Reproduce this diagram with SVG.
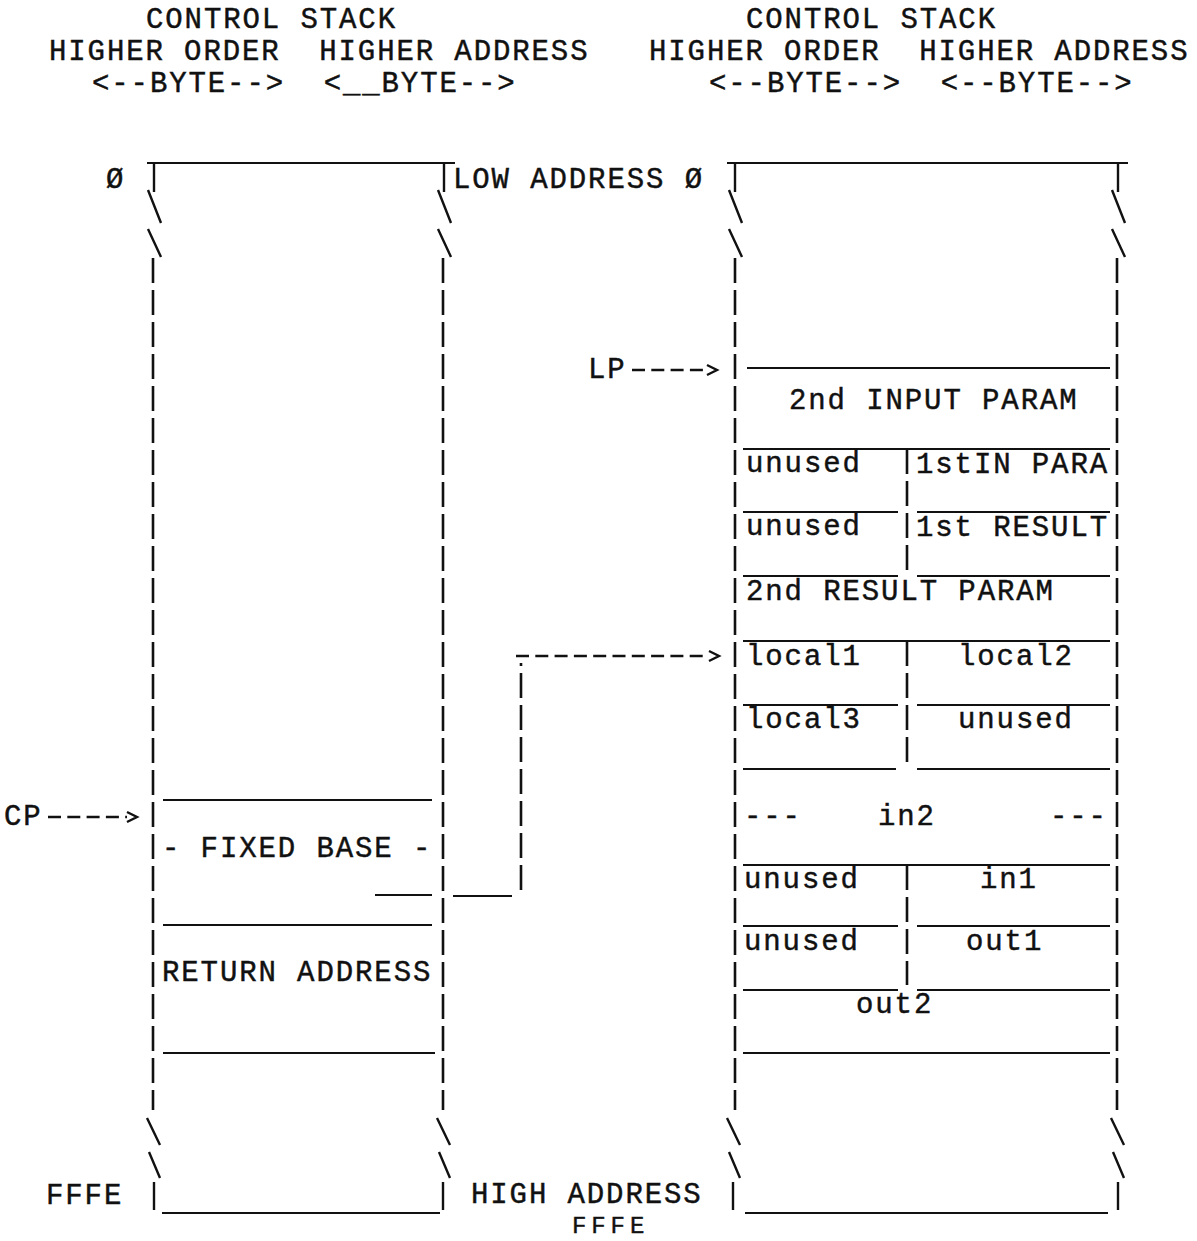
<svg xmlns="http://www.w3.org/2000/svg" width="1197" height="1241" viewBox="0 0 1197 1241" xml:space="preserve">
<defs>
<style>
.t{font-family:"Liberation Mono","DejaVu Sans Mono",monospace;font-size:29px;letter-spacing:1.9px;fill:#111;stroke:#111;stroke-width:0.45;white-space:pre}
.sm{font-size:24px;letter-spacing:4.9px}
.h{stroke:#111;stroke-width:2.2;fill:none}
.v{stroke:#111;stroke-width:2.6;fill:none;stroke-dasharray:25 7}
.s{stroke:#111;stroke-width:2.4;fill:none}
.a{stroke:#111;stroke-width:2.6;fill:none;stroke-dasharray:13 6.3}
</style>
<marker id="chev" markerUnits="userSpaceOnUse" markerWidth="14" markerHeight="14" refX="1" refY="6" orient="auto" viewBox="0 0 14 12">
<path d="M1,1 L11,6 L1,11" fill="none" stroke="#111" stroke-width="2.4"/>
</marker>
</defs>
<rect width="1197" height="1241" fill="#fff"/>

<g id="header-left">
<text class="t" x="146" y="28">CONTROL STACK</text>
<text class="t" x="49" y="60">HIGHER ORDER  HIGHER ADDRESS</text>
<text class="t" x="92" y="92">&lt;--BYTE--&gt;  &lt;__BYTE--&gt;</text>
</g>
<g id="header-right">
<text class="t" x="746" y="28">CONTROL STACK</text>
<text class="t" x="649" y="60">HIGHER ORDER  HIGHER ADDRESS</text>
<text class="t" x="709" y="92">&lt;--BYTE--&gt;  &lt;--BYTE--&gt;</text>
</g>

<g id="stack-left">
<text class="t" x="106" y="188">Ø</text>
<text class="t" x="46" y="1204">FFFE</text>
<line class="h" x1="147" y1="163" x2="455" y2="163"/>
<line class="s" x1="154" y1="163" x2="154" y2="192"/>
<line class="s" x1="444" y1="163" x2="444" y2="192"/>
<path class="s" d="M148,190 L161,223 M148,229 L161,257 M438,190 L451,223 M438,229 L451,257"/>
<line class="v" x1="153" y1="258" x2="153" y2="1110"/>
<line class="v" x1="443" y1="258" x2="443" y2="1110"/>
<path class="s" d="M147,1118 L160,1145 M149,1152 L160,1178 M437,1118 L450,1145 M439,1152 L450,1178"/>
<line class="s" x1="154" y1="1182" x2="154" y2="1210"/>
<line class="s" x1="443" y1="1182" x2="443" y2="1210"/>
<line class="h" x1="162" y1="1213" x2="440" y2="1213"/>
</g>

<g id="fixed-base">
<line class="h" x1="163" y1="800" x2="432" y2="800"/>
<text class="t" x="162" y="857">- FIXED BASE -</text>
</g>
<g id="return-address">
<line class="h" x1="163" y1="925" x2="432" y2="925"/>
<text class="t" x="162" y="981">RETURN ADDRESS</text>
<line class="h" x1="163" y1="1053" x2="435" y2="1053"/>
</g>

<g id="addr-labels">
<text class="t" x="453" y="188">LOW ADDRESS Ø</text>
<text class="t" x="471" y="1203">HIGH ADDRESS</text>
<text class="t sm" x="572" y="1233">FFFE</text>
</g>

<g id="stack-right">
<line class="h" x1="727" y1="163" x2="1128" y2="163"/>
<line class="s" x1="735" y1="163" x2="735" y2="192"/>
<line class="s" x1="1118" y1="163" x2="1118" y2="192"/>
<path class="s" d="M729,190 L742,223 M729,229 L742,257 M1112,190 L1125,223 M1112,229 L1125,257"/>
<line class="v" x1="735" y1="258" x2="735" y2="1110"/>
<line class="v" x1="1117" y1="258" x2="1117" y2="1110"/>
<path class="s" d="M727,1118 L740,1145 M729,1152 L740,1178 M1111,1118 L1124,1145 M1113,1152 L1124,1178"/>
<line class="s" x1="733" y1="1182" x2="733" y2="1210"/>
<line class="s" x1="1118" y1="1182" x2="1118" y2="1210"/>
<line class="h" x1="745" y1="1213" x2="1108" y2="1213"/>
</g>

<g id="input-param-2">
<line class="h" x1="747" y1="368" x2="1110" y2="368"/>
<text class="t" x="789" y="409">2nd INPUT PARAM</text>
</g>
<g id="input-param-1">
<line class="h" x1="743" y1="449" x2="1110" y2="449"/>
<line class="v" x1="907" y1="449" x2="907" y2="570"/>
<text class="t" x="746" y="472">unused</text>
<text class="t" x="916" y="473">1stIN PARA</text>
</g>
<g id="result-1">
<path class="h" d="M743,512 H898 M917,512 H1110"/>
<text class="t" x="746" y="535">unused</text>
<text class="t" x="916" y="536">1st RESULT</text>
</g>
<g id="result-2">
<path class="h" d="M743,576 H898 M917,576 H1110"/>
<text class="t" x="746" y="600">2nd RESULT PARAM</text>
</g>
<g id="locals-1-2">
<line class="h" x1="743" y1="641" x2="1110" y2="641"/>
<line class="v" x1="907" y1="641" x2="907" y2="764"/>
<text class="t" x="746" y="665">local1</text>
<text class="t" x="958" y="665">local2</text>
</g>
<g id="locals-3">
<path class="h" d="M743,705 H898 M917,705 H1110"/>
<text class="t" x="746" y="728">local3</text>
<text class="t" x="958" y="728">unused</text>
</g>
<g id="in2">
<path class="h" d="M743,769 H896 M917,769 H1110"/>
<text class="t" x="744" y="825">---</text>
<text class="t" x="878" y="825">in2</text>
<text class="t" x="1050" y="825">---</text>
</g>
<g id="in1">
<line class="h" x1="743" y1="865" x2="1110" y2="865"/>
<line class="v" x1="907" y1="865" x2="907" y2="985"/>
<text class="t" x="744" y="888">unused</text>
<text class="t" x="980" y="888">in1</text>
</g>
<g id="out1">
<path class="h" d="M743,926 H898 M917,926 H1110"/>
<text class="t" x="744" y="950">unused</text>
<text class="t" x="966" y="950">out1</text>
</g>
<g id="out2">
<path class="h" d="M743,990 H898 M917,990 H1110"/>
<text class="t" x="856" y="1013">out2</text>
<line class="h" x1="743" y1="1053" x2="1110" y2="1053"/>
</g>

<g id="pointer-labels">
<text class="t" x="4" y="825">CP</text>
<text class="t" x="588" y="378">LP</text>
</g>

<g id="connectors">
<line class="a" x1="48" y1="817" x2="127" y2="817" marker-end="url(#chev)"/>
<line class="a" x1="632" y1="370" x2="707" y2="370" marker-end="url(#chev)"/>
<path class="h" d="M375,895 H432 M453,896 H512"/>
<line class="v" x1="521" y1="890" x2="521" y2="663"/>
<line class="a" x1="516" y1="656" x2="709" y2="656" marker-end="url(#chev)"/>
</g>
</svg>
